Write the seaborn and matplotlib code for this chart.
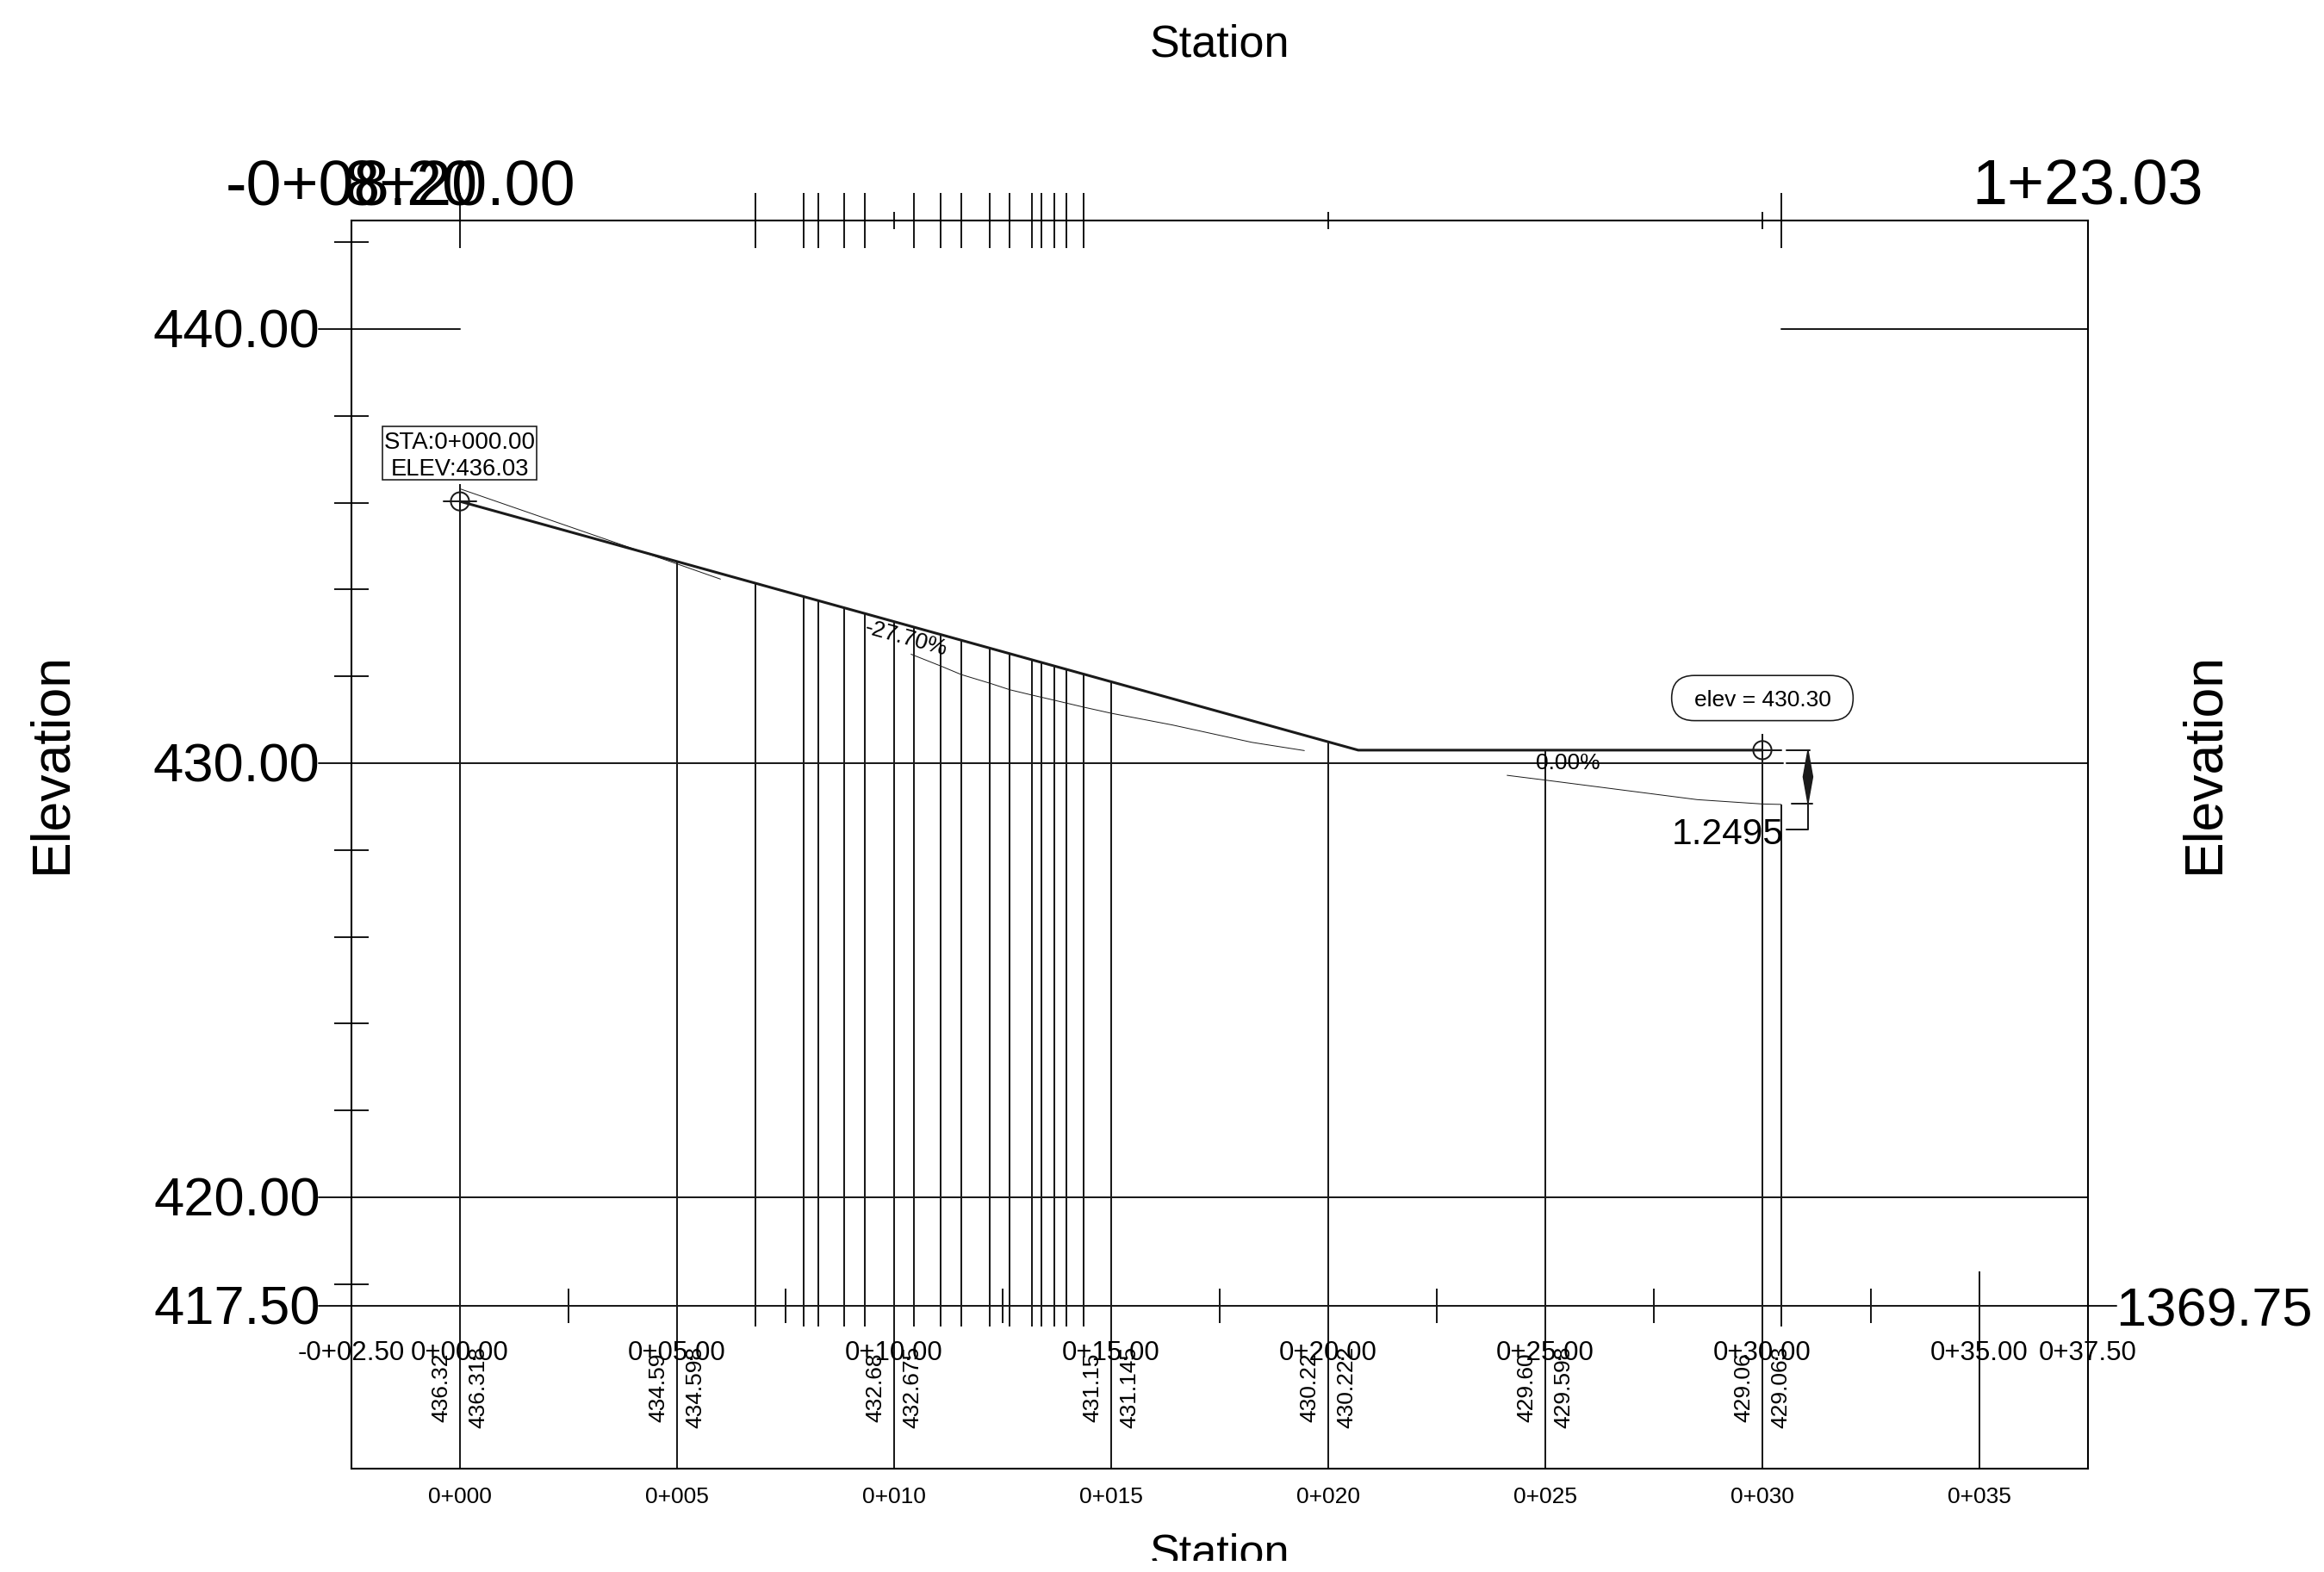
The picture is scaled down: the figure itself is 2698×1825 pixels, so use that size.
import matplotlib
matplotlib.use("Agg")
import numpy as np
import pandas as pd
import seaborn as sns
from matplotlib import pyplot as plt
from matplotlib.patches import FancyBboxPatch, Rectangle, Circle

# Design profile
profile_sta = [0.0, 20.69, 30.0]
profile_elev = [436.03, 430.30, 430.30]

# Thin existing ground pieces
ground_a_sta = [0.0, 5.0, 6.0]
ground_a_elev = [436.32, 434.59, 434.24]
ground_b_sta = [10.39, 11.07, 11.55, 12.21, 12.67, 13.17, 13.69, 14.37, 15.0, 16.41, 18.24, 19.45]
ground_b_elev = [432.51, 432.24, 432.04, 431.84, 431.69, 431.57, 431.45, 431.29, 431.15, 430.88, 430.48, 430.29]
ground_c_sta = [24.12, 25.0, 28.5, 30.0, 30.43]
ground_c_elev = [429.72, 429.61, 429.16, 429.06, 429.05]

# Vertical station lines
major_sta = [0, 5, 10, 15, 20, 25, 30, 35]
major_top = [436.42, 434.64, 433.27, 431.88, 430.49, 430.30, 430.68, 418.30]
sample_sta = [6.80, 7.91, 8.26, 8.84, 9.33, 10.45, 11.07, 11.55, 12.21, 12.66, 13.17, 13.39, 13.69, 13.97, 14.37, 30.43]
sample_top = [434.15, 433.84, 433.74, 433.58, 433.45, 433.14, 432.96, 432.83, 432.65, 432.52, 432.38, 432.32, 432.24, 432.16, 432.05, 429.05]
half_sta = [2.5, 7.5, 12.5, 17.5, 22.5, 27.5, 32.5]
tiny_top_sta = [10, 20, 30]
minor_elev = [442, 438, 436, 434, 432, 428, 426, 424, 422, 418]

# Labels
station_labels = ["-0+02.50", "0+00.00", "0+05.00", "0+10.00", "0+15.00", "0+20.00", "0+25.00", "0+30.00", "0+35.00", "0+37.50"]
station_label_pos = [-2.5, 0, 5, 10, 15, 20, 25, 30, 35, 37.5]
band_labels = ["0+000", "0+005", "0+010", "0+015", "0+020", "0+025", "0+030", "0+035"]
elev_left_sta = [0, 5, 10, 15, 20, 25, 30]
elev_left = ["436.32", "434.59", "432.68", "431.15", "430.22", "429.60", "429.06"]
elev_right = ["436.318", "434.598", "432.675", "431.145", "430.222", "429.598", "429.063"]
elev_ticks = [440, 430, 420, 417.5]
elev_tick_labels = ["440.00", "430.00", "420.00", "417.50"]

sns.set_theme(style="white")
plt.rcParams["font.family"] = ["Liberation Sans", "DejaVu Sans"]
plt.rcParams["text.color"] = "black"

fig = plt.figure(figsize=(26.98, 18.25), dpi=100)
ax = fig.add_axes([408 / 2698, 1 - 1705 / 1825, 2016 / 2698, 1449 / 1825])
ax.set_xlim(-2.5, 37.5)
ax.set_ylim(413.75, 442.5)
ax.set_xticks([])
ax.set_yticks([])
for spine in ax.spines.values():
    spine.set_color("black")
    spine.set_linewidth(1.5)

LW = 1.45
THIN = 0.7

# Horizontal grid and elevation ticks
ax.plot([-3.25, 0], [440, 440], color="k", lw=LW, clip_on=False)
ax.plot([30.43, 37.5], [440, 440], color="k", lw=LW)
ax.plot([-3.25, 30.47], [430, 430], color="k", lw=LW, clip_on=False)
ax.plot([30.56, 37.5], [430, 430], color="k", lw=LW)
ax.plot([-3.25, 37.5], [420, 420], color="k", lw=LW, clip_on=False)
ax.plot([-3.25, 38.15], [417.5, 417.5], color="k", lw=LW, clip_on=False)
ax.hlines(minor_elev, -2.9, -2.1, color="k", lw=LW, clip_on=False)

# Station lines
ax.vlines(major_sta, 413.75, major_top, color="k", lw=LW)
ax.vlines(sample_sta, 417.02, sample_top, color="k", lw=LW)
ax.vlines(half_sta, 417.11, 417.89, color="k", lw=LW)
ax.vlines(sample_sta + [0], 441.86, 443.14, color="k", lw=LW, clip_on=False)
ax.vlines(tiny_top_sta, 442.3, 442.7, color="k", lw=LW, clip_on=False)

# Profile and ground lines
sns.lineplot(x=profile_sta, y=profile_elev, color="k", lw=2.2, sort=False, ax=ax, errorbar=None)
for sta, elev in [(ground_a_sta, ground_a_elev), (ground_b_sta, ground_b_elev), (ground_c_sta, ground_c_elev)]:
    sns.lineplot(data=pd.DataFrame({"sta": sta, "elev": elev}), x="sta", y="elev", color="k", lw=THIN, sort=False, ax=ax, errorbar=None)

# End markers
for sta, elev in [(profile_sta[0], profile_elev[0]), (profile_sta[2], profile_elev[2])]:
    ax.add_patch(Circle((sta, elev), 0.21, fill=False, ec="k", lw=LW, zorder=4))
ax.plot([-0.38, 0.38], [436.03, 436.03], color="k", lw=LW)

# Dimension between profile end and ground end
dim_x = 31.05
ax.plot([30.0, 30.43], [430.30, 430.30], color="k", lw=LW)
ax.plot([30.55, 31.1], [430.30, 430.30], color="k", lw=LW)
ax.plot([30.67, 31.15], [429.07, 429.07], color="k", lw=LW)
ax.plot([30.55, dim_x, dim_x], [428.47, 428.47, 430.30], color="k", lw=LW)
mid = (430.30 + 429.07) / 2
ax.fill([dim_x, dim_x - 0.11, dim_x, dim_x + 0.11], [430.30, mid, 429.07, mid], color="k", zorder=4)

# Text
big = 45.5
for e, lab in zip(elev_ticks, elev_tick_labels):
    ax.text(-3.22, e + 0.03, lab, fontsize=big, ha="right", va="center_baseline")
ax.text(38.14, 417.5, "1369.75", fontsize=big, ha="left", va="center_baseline")
for x, lab in [(-2.5, "-0+08.20"), (0, "8+20.00"), (37.5, "1+23.03")]:
    ax.text(x, 443.41, lab, fontsize=53, ha="center", va="center_baseline")

for x, lab in zip(station_label_pos, station_labels):
    ax.text(x, 416.47, lab, fontsize=22.5, ha="center", va="center_baseline")
for x, lab in zip(major_sta, band_labels):
    ax.text(x, 413.14, lab, fontsize=19, ha="center", va="center_baseline")
for x, left, right in zip(elev_left_sta, elev_left, elev_right):
    ax.text(x - 0.42, 414.82, left, fontsize=19, rotation=90, ha="center", va="bottom")
    ax.text(x + 0.42, 414.68, right, fontsize=19, rotation=90, ha="center", va="bottom")

ax.text(17.5, 446.66, "Station", fontsize=37.5, ha="center", va="center_baseline")
bottom_title = ax.text(17.5, 411.9, "Station", fontsize=37.5, ha="center", va="center_baseline")
ax.text(-9.4, 430, "Elevation", fontsize=45, rotation=90, ha="center", va="center")
ax.text(40.18, 430, "Elevation", fontsize=45, rotation=90, ha="center", va="center")

# Callouts
ax.add_patch(Rectangle((-1.79, 436.52), 3.56, 1.23, fill=False, ec="k", lw=LW * 0.8))
ax.text(0, 437.44, "STA:0+000.00", fontsize=19.9, ha="center", va="center_baseline")
ax.text(0, 436.82, "ELEV:436.03", fontsize=19.7, ha="center", va="center_baseline")
ax.add_patch(FancyBboxPatch((30 - 1.57, 431.5), 3.14, 0.0, boxstyle="round,pad=0.52,rounding_size=0.52", fill=False, ec="k", lw=LW * 0.8, zorder=3))
ax.text(30, 431.5, "elev = 430.30", fontsize=19, ha="center", va="center_baseline")
ax.text(25.52, 430.05, "0.00%", fontsize=19, ha="center", va="center_baseline")
ax.text(10.29, 432.91, "-27.70%", fontsize=19, rotation=-15.5, rotation_mode="anchor", ha="center", va="center_baseline")
ax.text(30.49, 428.45, "1.2495", fontsize=30.6, ha="right", va="center_baseline")

for t in ax.texts:
    t.set_clip_on(False)
# the lower title is cut off a little above the bottom edge in the source
bottom_title.set_clip_path(Rectangle((0, 1825 - 1812), 2698, 1812, transform=None))
bottom_title.set_clip_on(True)

fig.savefig("out.png", dpi=100)
